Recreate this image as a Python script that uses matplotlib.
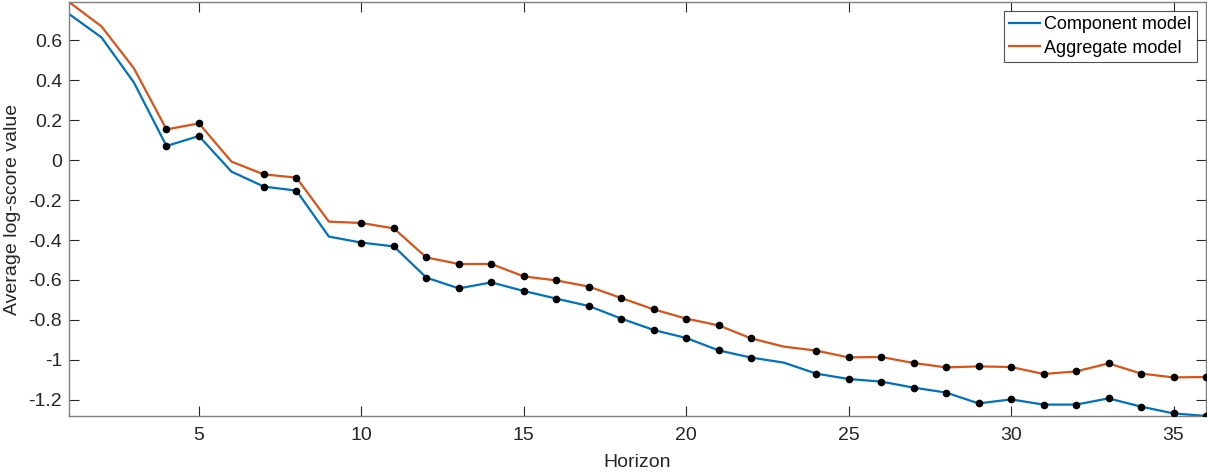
"""Average log-score by forecast horizon, component vs aggregate model."""

import matplotlib

matplotlib.use("Agg")
import matplotlib.pyplot as plt
from matplotlib.ticker import FormatStrFormatter

horizons = list(range(1, 37))

component = [
    0.73, 0.613, 0.387, 0.07, 0.12, -0.058, -0.133, -0.153, -0.383, -0.413,
    -0.432, -0.588, -0.642, -0.612, -0.655, -0.693, -0.73, -0.793, -0.85, -0.89,
    -0.952, -0.988, -1.013, -1.068, -1.095, -1.108, -1.138, -1.163, -1.217, -1.197,
    -1.223, -1.223, -1.192, -1.233, -1.267, -1.28,
]
aggregate = [
    0.79, 0.668, 0.458, 0.153, 0.183, -0.008, -0.072, -0.088, -0.308, -0.315,
    -0.342, -0.487, -0.52, -0.52, -0.582, -0.602, -0.633, -0.69, -0.747, -0.793,
    -0.827, -0.892, -0.933, -0.953, -0.987, -0.985, -1.015, -1.037, -1.032, -1.035,
    -1.07, -1.057, -1.017, -1.068, -1.087, -1.085,
]

# horizontes com ponto preto marcado nas duas curvas
marked = [4, 5, 7, 8, 10, 11, 12, 13, 14, 15, 16, 17, 18, 19, 20, 21, 22,
          24, 25, 26, 27, 28, 29, 30, 31, 32, 33, 34, 35, 36]

labels = ["Component model", "Aggregate model"]

plt.rcParams["font.family"] = ["Liberation Sans", "DejaVu Sans"]
plt.rcParams["axes.unicode_minus"] = False

fig = plt.figure(figsize=(12.07, 4.75), dpi=100)
ax = fig.add_axes([69 / 1207, 59 / 475, 1137 / 1207, 414 / 475])

ax.plot(horizons, component, color="#0072BD", lw=1.6, label=labels[0])
ax.plot(horizons, aggregate, color="#D95319", lw=1.6, label=labels[1])

for serie in (component, aggregate):
    ax.plot(marked, [serie[h - 1] for h in marked], "o", color="black",
            ms=4.5, zorder=3)

ax.set_xlim(1, 36)
ax.set_ylim(-1.28, 0.79)
ax.set_xticks([5, 10, 15, 20, 25, 30, 35])
ax.set_yticks([-1.2, -1, -0.8, -0.6, -0.4, -0.2, 0, 0.2, 0.4, 0.6])
ax.yaxis.set_major_formatter(FormatStrFormatter("%g"))

cinza = "#262626"
for lado in ax.spines.values():
    lado.set_color("#7f7f7f")
    lado.set_linewidth(1.0)
ax.tick_params(direction="in", length=7, width=0.8, color=cinza,
               labelcolor=cinza, labelsize=14, top=True, right=True)
ax.tick_params(axis="x", pad=8)
ax.tick_params(axis="y", pad=5)

ax.set_xlabel("Horizon", fontsize=14, color=cinza, labelpad=7)
ax.set_ylabel("Average log-score value", fontsize=14, color=cinza, labelpad=5)

leg = ax.legend(loc="upper right", fontsize=13, frameon=True, fancybox=False,
                edgecolor="#262626", handlelength=1.7, handletextpad=0.25,
                borderpad=0.3, labelspacing=0.35, borderaxespad=0.5)
leg.get_frame().set_linewidth(0.8)

fig.savefig("out.png", dpi=100)
plt.close(fig)
